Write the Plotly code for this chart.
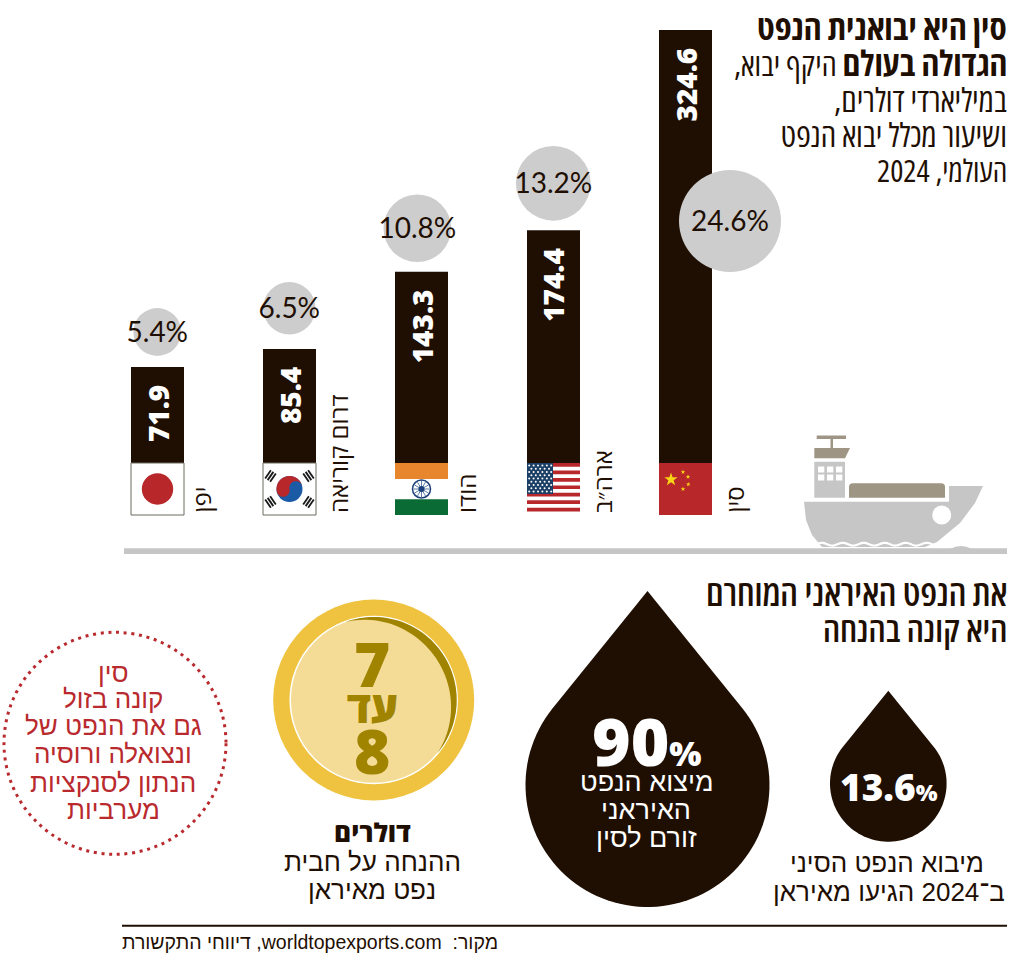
import numpy as np
import plotly.graph_objects as go

W, H = 1024, 958

# data
countries = ["יפן", "דרום קוריאה", "הודו", "ארה״ב", "סין"]
imports_bn = [71.9, 85.4, 143.3, 174.4, 324.6]
import_share = [5.4, 6.5, 10.8, 13.2, 24.6]

INK = "#1f0f03"
GREY = "#cdcdcd"
SHIP = "#c6c6c6"
TAN = "#9e9585"
RED = "#b8272a"
GOLD = "#a08400"
HEAD = "Open Sans"
BODY = "Liberation Sans, Arial"
NUM = "Open Sans"
RLE = "\u202b"

BASE_PX = 463          # pixel row of value 0, the flags sit under it
PX_PER_BN = 1.334
BAR_W = 53
BAR_STEP = 132
BAR0 = 157.5
centers = [BAR0 + BAR_STEP * i for i in range(5)]

# bubble placement, page pixels
bubble_px = [(157.3, 332), (289.3, 308.3), (417.3, 228.3), (553.3, 183.3), (730, 221)]
# country label offset from the bar centre
label_shift = [43, 49, 45, 49, 48]

shapes = []
annots = []


def px(x, y):
    return f"{x / W:.5f} {1 - y / H:.5f}"


def poly(points, fill, close=True, line=None, width=0, dash=None):
    path = "M" + " L".join(px(x, y) for x, y in points) + (" Z" if close else "")
    add_path(path, fill, line, width, dash)


def add_path(path, fill=None, line=None, width=0, dash=None):
    shapes.append(dict(type="path", path=path, xref="paper", yref="paper", layer="above",
                       fillcolor=fill if fill else "rgba(0,0,0,0)",
                       line=dict(color=line if line else "rgba(0,0,0,0)", width=width, dash=dash)))


def rect(x0, y0, x1, y1, fill, line=None, width=0):
    shapes.append(dict(type="rect", xref="paper", yref="paper", layer="above",
                       x0=x0 / W, x1=x1 / W, y0=1 - y0 / H, y1=1 - y1 / H, fillcolor=fill,
                       line=dict(color=line if line else "rgba(0,0,0,0)", width=width)))


def circle(cx, cy, r, fill, line=None, width=0, dash=None):
    shapes.append(dict(type="circle", xref="paper", yref="paper", layer="above",
                       x0=(cx - r) / W, x1=(cx + r) / W, y0=1 - (cy - r) / H, y1=1 - (cy + r) / H,
                       fillcolor=fill if fill else "rgba(0,0,0,0)",
                       line=dict(color=line if line else "rgba(0,0,0,0)", width=width, dash=dash)))


def seg(x0, y0, x1, y1, color, width):
    add_path(f"M{px(x0, y0)} L{px(x1, y1)}", None, color, width)


def txt(x, y, s, size, color=INK, family=BODY, anchor="center", weight=400, angle=0):
    annots.append(dict(x=x / W, y=1 - y / H, xref="paper", yref="paper", text=s, showarrow=False,
                       xanchor=anchor, yanchor="middle", textangle=angle,
                       font=dict(size=size, color=color, family=family, weight=weight)))


def narrow(s, pct=75):
    return f"<span style='font-stretch:{pct}%'>{s}</span>"


def star_pts(cx, cy, r, rot=-90):
    pts = []
    for k in range(10):
        a = np.radians(rot + 36 * k)
        rr = r if k % 2 == 0 else r * 0.4
        pts.append((cx + rr * np.cos(a), cy + rr * np.sin(a)))
    return pts


def drop(cx, cy, r, tip_y, fill):
    half = np.arcsin(r / (cy - tip_y))
    a = np.linspace(-np.pi / 2 + (np.pi / 2 - half), 3 * np.pi / 2 - (np.pi / 2 - half), 90)
    pts = [(cx, tip_y)] + [(cx + r * np.cos(t), cy + r * np.sin(t)) for t in a]
    poly(pts, fill)


# flags
def flag_japan(c):
    rect(c - 26.5, 463, c + 26.5, 515, "white", "#6e6a5f", 1)
    circle(c, 489, 15.7, RED)


def flag_korea(c):
    rect(c - 26.5, 463, c + 26.5, 515, "white", "#6e6a5f", 1)
    r = 13
    cy = 489
    tilt = np.radians(-12)
    circle(c, cy, r, "#1b5aa5")
    pts = []
    for t in np.linspace(np.pi, 2 * np.pi, 30):
        pts.append((r * np.cos(t), r * np.sin(t)))
    for t in np.linspace(0, -np.pi, 15):
        pts.append((r / 2 + r / 2 * np.cos(t), r / 2 * np.sin(t)))
    for t in np.linspace(0, np.pi, 15):
        pts.append((-r / 2 + r / 2 * np.cos(t), r / 2 * np.sin(t)))
    poly([(c + x * np.cos(tilt) - y * np.sin(tilt), cy + x * np.sin(tilt) + y * np.cos(tilt)) for x, y in pts], RED)
    for dx, dy in [(-19, -13), (19, -13), (-19, 13), (19, 13)]:
        n = np.array([dx, dy]) / np.hypot(dx, dy)
        d = np.array([-n[1], n[0]])
        for k in (-3, 0, 3):
            p = np.array([c + dx, cy + dy]) + n * k
            seg(*(p - d * 5), *(p + d * 5), "#1a1a1a", 1.8)


def flag_india(c):
    rect(c - 26.5, 463, c + 26.5, 479, "#e8862e")
    rect(c - 26.5, 499.3, c + 26.5, 515, "#0a6b35")
    circle(c, 489, 9, "white", "#1c3f7c", 1.5)
    for k in range(12):
        a = np.radians(30 * k)
        seg(c, 489, c + 8 * np.cos(a), 489 + 8 * np.sin(a), "#5f7fa8", 1)
    circle(c, 489, 3, "#1c3f7c")


def flag_usa(c):
    x0, x1 = c - 26.5, c + 26.5
    stripe = 48.5 / 13
    for k in range(0, 13, 2):
        rect(x0, 463 + k * stripe, x1, 463 + (k + 1) * stripe, RED)
    rect(x0, 463, c - 0.5, 494, "#1c3f66")
    for row in range(9):
        count = 6 if row % 2 == 0 else 5
        off = 2.2 if row % 2 == 0 else 4.4
        for k in range(count):
            circle(x0 + off + k * 4.4, 465.5 + row * 3.25, 1, "white")


def flag_china(c):
    rect(c - 26.5, 463, c + 26.5, 515, RED)
    poly(star_pts(c - 14.5, 479.5, 7), "#f8d616")
    for sx, sy in [(683, 472), (688, 476.7), (688.3, 484.3), (683, 489)]:
        poly(star_pts(sx, sy, 2.4), "#f8d616")


for draw, c in zip([flag_japan, flag_korea, flag_india, flag_usa, flag_china], centers):
    draw(c)

# ground and ship
poly([(804, 501.7), (949, 501.7), (949, 486), (983, 486), (975, 503), (960, 523), (937, 542), (925, 547),
      (822, 547), (812, 535), (806, 520)], SHIP)
rect(814.3, 461.7, 845, 497.7, SHIP)
for wy in (466.5, 474.5):
    for wx in (818, 827, 836):
        rect(wx, wy, wx + 6.3, wy + 6, "white")
poly([(814.3, 448), (850, 448), (845, 458.3), (814.3, 458.3)], TAN)
rect(830.5, 439, 833, 448, TAN)
rect(816.7, 435.5, 846, 439, TAN)
add_path(f"M{px(849, 497.7)} L{px(849, 487)} Q{px(849, 483.3)} {px(853, 483.3)} L{px(941, 483.3)} "
         f"Q{px(945, 483.3)} {px(945, 487)} L{px(945, 497.7)} Z", TAN)
circle(941.7, 515, 9.5, "white")
wave_x = np.linspace(806, 945, 90)
wave = [(x, 544.2 + 1.4 * np.sin((x - 806) / 21 * 2 * np.pi)) for x in wave_x]
poly(wave, None, close=False, line="white", width=2.2)
rect(124, 548.3, 1007, 554, SHIP)
add_path(f"M{px(950, 549)} Q{px(961, 543)} {px(972, 549)} Z", SHIP)

# drops
drop(647.5, 785, 122, 591, INK)
drop(888.3, 783.4, 58.3, 690.7, INK)

# coin
circle(373.7, 700, 100.5, "#efc33f")
circle(373.7, 700, 83.5, "#f5dc96", "white", 1.5)
ang = np.linspace(-110, 40, 60)
crescent = [(373.7 + 83 * np.cos(np.radians(t)), 700 + 83 * np.sin(np.radians(t))) for t in ang]
for t in ang[::-1]:
    rr = 83 - 8 * np.sin(np.pi * (t + 110) / 150)
    crescent.append((373.7 + rr * np.cos(np.radians(t)), 700 + rr * np.sin(np.radians(t))))
poly(crescent, GOLD)

# dotted red circle
circle(115, 743.3, 111, None, "#b92a2e", 3, "3px,4.7px")

# bottom rule
rect(122, 924.8, 1007, 926.8, INK)

# title
RIGHT = 1009
txt(RIGHT, 26, narrow("סין היא יבואנית הנפט"), 35, family=HEAD, anchor="right", weight=700)
txt(RIGHT, 62, RLE + narrow("<b style='font-size:35px'>הגדולה בעולם</b> היקף יבוא,\u200f"), 32, family=HEAD, anchor="right")
txt(RIGHT, 99, RLE + narrow("במיליארדי דולרים,\u200f"), 33, family=HEAD, anchor="right")
txt(RIGHT, 135, narrow("ושיעור מכלל יבוא הנפט"), 33, family=HEAD, anchor="right")
txt(RIGHT, 170, RLE + narrow("העולמי, 2024"), 31, family=HEAD, anchor="right")

txt(RIGHT, 592, narrow("את הנפט האיראני המוחרם"), 36, family=HEAD, anchor="right", weight=600)
txt(RIGHT, 628, narrow("היא קונה בהנחה"), 35, family=HEAD, anchor="right", weight=600)

# drop texts
txt(647, 740, "<span style='font-size:66px'>90</span><span style='font-size:34px'>%</span>", 34,
    color="white", family=NUM, weight=800)
for yy, line in zip((782, 810, 838), ("מיצוא הנפט", "האיראני", "זורם לסין")):
    txt(646, yy, line, 27, color="white")
txt(889, 786, "<span style='font-size:37px'>13.6</span><span style='font-size:23px'>%</span>", 23,
    color="white", family=NUM, weight=800)
txt(887, 863, "מיבוא הנפט הסיני", 26)
txt(889, 892, RLE + "ב־2024 הגיעו מאיראן", 26)

# coin texts
txt(372, 663, "7", 62, color=GOLD, family=NUM, weight=800)
txt(372, 706, "עד", 43, color=GOLD, family=HEAD, weight=800)
txt(372, 750, "8", 62, color=GOLD, family=NUM, weight=800)
txt(372, 832, "דולרים", 26, weight=800, family=HEAD)
txt(372, 862, "ההנחה על חבית", 26)
txt(372, 890, "נפט מאיראן", 26)

# red note
for yy, line in zip((673, 699, 726, 754, 783, 810),
                    ("סין", "קונה בזול", "גם את הנפט של", "ונצואלה ורוסיה", "הנתון לסנקציות", "מערביות")):
    txt(113, yy, line, 26, color="#b92a2e")

# source
txt(500, 942, RLE + "מקור:  worldtopexports.com, דיווחי התקשורת", 19.5, anchor="right")

# bar labels on the bars' own axes
for i, (name, value) in enumerate(zip(countries, imports_bn)):
    annots.append(dict(x=i, y=value, xref="x", yref="y", text=f"{value}", showarrow=False,
                       textangle=-90, yanchor="top", yshift=-16,
                       font=dict(size=28, color="white", family=NUM, weight=800)))
    annots.append(dict(x=i, y=0, xref="x", yref="y", text=name, showarrow=False,
                       textangle=-90, yanchor="bottom", xshift=label_shift[i], yshift=-52,
                       font=dict(size=24, color=INK, family=HEAD)))

fig = go.Figure()
fig.add_trace(go.Bar(x=list(range(len(countries))), y=imports_bn, hovertext=countries,
                     marker=dict(color=INK, line=dict(width=0)), width=BAR_W / BAR_STEP))
bubble_x = [(bx - BAR0) / BAR_STEP for bx, _ in bubble_px]
fig.add_trace(go.Scatter(
    x=bubble_x,
    y=[(BASE_PX - by) / PX_PER_BN for _, by in bubble_px],
    mode="markers",
    marker=dict(size=[2 * 51 * (s / 24.6) ** 0.5 for s in import_share], color=GREY, line=dict(width=0), opacity=1),
    cliponaxis=False, hoverinfo="skip",
))
fig.add_trace(go.Scatter(
    x=bubble_x,
    y=[(BASE_PX - by - 2.5) / PX_PER_BN for _, by in bubble_px],
    mode="text",
    text=[f"{s}%" for s in import_share],
    textposition="middle center",
    textfont=dict(size=28, color=INK, family="Lato"),
    cliponaxis=False, hoverinfo="text",
))

fig.update_layout(
    width=W, height=H, margin=dict(l=0, r=0, t=0, b=0),
    paper_bgcolor="white", plot_bgcolor="rgba(0,0,0,0)", showlegend=False,
    shapes=shapes, annotations=annots,
    xaxis=dict(range=[-0.5, 4.5], domain=[(BAR0 - BAR_STEP / 2) / W, (BAR0 + 4.5 * BAR_STEP) / W], visible=False),
    yaxis=dict(range=[0, BASE_PX / PX_PER_BN], domain=[1 - BASE_PX / H, 1], visible=False),
)

fig.write_html("out.html", config=dict(displayModeBar=False),
               post_script="document.body.style.margin='0';document.body.style.overflow='hidden';")
